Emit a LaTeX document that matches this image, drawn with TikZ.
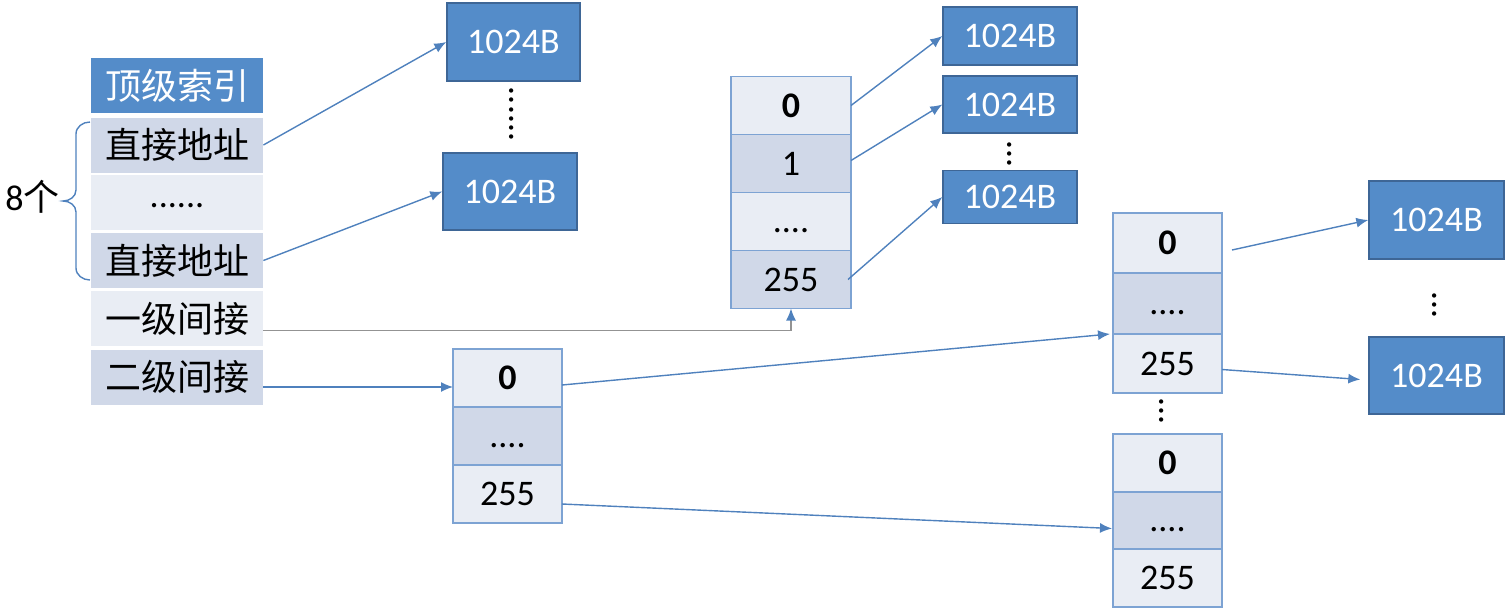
\documentclass[tikz,border=0pt]{standalone}
\usepackage{fontspec}
\setmainfont{Carlito}
\newfontfamily\cjk{Noto Sans CJK SC}
\usetikzlibrary{arrows.meta,calc}
\definecolor{boxblue}{RGB}{84,140,201}
\definecolor{boxedge}{RGB}{62,102,150}
\definecolor{lightcell}{RGB}{233,237,244}
\definecolor{darkcell}{RGB}{208,216,232}
\definecolor{tabedge}{RGB}{125,163,211}
\definecolor{arrowblue}{RGB}{79,129,189}
\tikzset{
  every node/.style={font=\fontsize{18}{21}\selectfont},
  lcell/.style={inner sep=0pt, minimum width=86pt, minimum height=27.5pt},
  blk/.style={draw=boxedge, line width=0.7pt, fill=boxblue, text=white, inner sep=0pt},
  tcell/.style={draw=tabedge, line width=0.9pt, inner sep=0pt, outer sep=0pt, minimum height=29pt},
  arr/.style={draw=arrowblue, line width=0.7pt, -{Latex[length=6pt,width=5pt]}},
  gray arr/.style={draw=gray!85, line width=0.7pt, -{Latex[length=6pt,width=5pt,color=arrowblue]}},
  vdots/.style={rotate=90, inner sep=0pt}
}
\newcommand{\fdots}{\vphantom{1}....}
\begin{document}
\begin{tikzpicture}[x=0.5pt,y=-0.5pt]
\useasboundingbox (0,0) rectangle (1507,611);
% left table
\node[lcell, fill=boxblue, text=white] (L0) at (177,85.5) {\cjk 顶级索引};
\node[lcell, fill=darkcell] (L1) at (177,145) {\cjk 直接地址};
\node[lcell, fill=lightcell] (L2) at (177,202.5) {\rule{0pt}{5.5pt}......};
\node[lcell, fill=darkcell] (L3) at (177,260.5) {\cjk 直接地址};
\node[lcell, fill=lightcell] (L4) at (177,318.5) {\cjk 一级间接};
\node[lcell, fill=darkcell] (L5) at (177,377) {\cjk 二级间接};
% brace
\draw[arrowblue, line width=0.7pt] (90,122) to[out=180,in=90] (76,134) -- (76,190)
  to[out=-90,in=0] (63,201) to[out=0,in=90] (76,212) -- (76,268) to[out=-90,in=180] (90,280);
\node[anchor=east, inner sep=0pt] (N8) at (60,197) {8\cjk 个};
% top direct blocks
\node[blk, minimum width=66.5pt, minimum height=39pt] (B1) at (513.5,42) {1024B};
\node[blk, minimum width=67pt, minimum height=38.5pt] (B2) at (510,191.5) {1024B};
\node[vdots] (D1) at (512,114) {......};
% first-level index table
\node[tcell, fill=lightcell, minimum width=60pt] (M0) at (791,105.5) {\textbf{0}};
\node[tcell, fill=darkcell, minimum width=60pt, anchor=north] (M1) at (M0.south) {1};
\node[tcell, fill=lightcell, minimum width=60pt, anchor=north] (M2) at (M1.south) {\fdots};
\node[tcell, fill=darkcell, minimum width=60pt, anchor=north] (M3) at (M2.south) {255};
% blocks of first-level
\node[blk, minimum width=67pt, minimum height=29pt] (R1) at (1010,36) {1024B};
\node[blk, minimum width=67pt, minimum height=28.5pt] (R2) at (1010,104.5) {1024B};
\node[blk, minimum width=67pt, minimum height=26.5pt] (R3) at (1010,197) {1024B};
\node[vdots] (D2) at (1010,154) {...};
% second-level index
\node[tcell, fill=lightcell, minimum width=54.5pt] (S0) at (507.5,378) {\textbf{0}};
\node[tcell, fill=darkcell, minimum width=54.5pt, anchor=north] (S1) at (S0.south) {\fdots};
\node[tcell, fill=lightcell, minimum width=54.5pt, anchor=north] (S2) at (S1.south) {255};
% second-level tables
\node[tcell, fill=lightcell, minimum width=54.5pt, minimum height=30pt] (T0) at (1167.5,243) {\textbf{0}};
\node[tcell, fill=darkcell, minimum width=54.5pt, minimum height=30.5pt, anchor=north] (T1) at (T0.south) {\fdots};
\node[tcell, fill=lightcell, minimum width=54.5pt, minimum height=29.5pt, anchor=north] (T2) at (T1.south) {255};
\node[vdots] (D3) at (1162,411) {...};
\node[tcell, fill=lightcell, minimum width=54.5pt] (U0) at (1167.5,463) {\textbf{0}};
\node[tcell, fill=darkcell, minimum width=54.5pt, minimum height=28.5pt, anchor=north] (U1) at (U0.south) {\fdots};
\node[tcell, fill=lightcell, minimum width=54.5pt, anchor=north] (U2) at (U1.south) {255};
% far right blocks
\node[blk, minimum width=67.5pt, minimum height=39pt] (F1) at (1436.5,220) {1024B};
\node[blk, minimum width=67.5pt, minimum height=38.5pt] (F2) at (1436.5,375.5) {1024B};
\node[vdots] (D4) at (1435,305) {...};
% arrows
\draw[arr] (L1.east) -- (B1.west);
\draw[arr] (L3.east) -- (B2.west);
\draw[gray arr] ($(L4.east)+(0,12)$) -| (M3.south);
\draw[arr] ($(L5.east)+(0,10)$) -- ($(S0.west)+(0,9)$);
\draw[arr] (M0.east) -- (R1.west);
\draw[arr] ($(M1.east)+(0,-3)$) -- (R2.west);
\draw[arr] ($(M3.east)+(-3,0)$) -- (R3.west);
\draw[arr] ($(S0.east)+(0,7)$) -- ($(T1.south west)+(-3,0)$);
\draw[arr] ($(S2.east)+(0,10)$) -- ($(U1.west)+(-1,8)$);
\draw[arr] ($(T0.east)+(10,7)$) -- (F1.west);
\draw[arr] ($(T2.east)+(0,6)$) -- ($(F2.west)+(-8,4)$);
\end{tikzpicture}
\end{document}
